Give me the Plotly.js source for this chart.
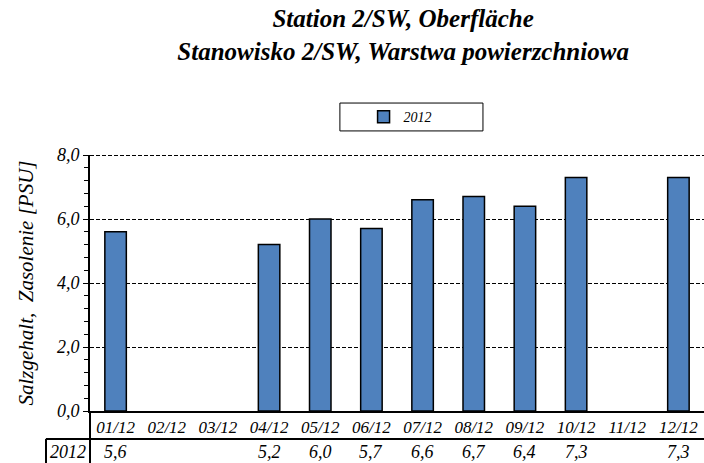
<!DOCTYPE html>
<html>
<head>
<meta charset="utf-8">
<script src="https://cdn.plot.ly/plotly-3.0.1.min.js"></script>
<style>html,body{margin:0;padding:0;background:#fff;}#chart{width:704px;height:463px;}</style>
</head>
<body>
<div id="chart"></div>
<script>
const categories = ["01/12","02/12","03/12","04/12","05/12","06/12","07/12","08/12","09/12","10/12","11/12","12/12"];
const values2012 = [5.6, null, null, 5.2, 6.0, 5.7, 6.6, 6.7, 6.4, 7.3, null, 7.3];
const seriesName = "2012";
const yTicks = [0, 2, 4, 6, 8];

const serif = "Liberation Serif";
const fmt = v => v.toFixed(1).replace('.', ',');
const it = s => '<i>' + s + '</i>';

const trace = {
  type: 'bar',
  x: categories,
  y: values2012,
  name: it(seriesName),
  width: 0.42,
  marker: {color: '#4F81BD', line: {color: '#000', width: 1.5}},
  showlegend: true
};

const annotations = categories.map((c, i) => values2012[i] == null ? null : ({
  x: c, xref: 'x', y: -0.16, yref: 'paper', yanchor: 'middle',
  text: it(fmt(values2012[i])), showarrow: false,
  font: {family: serif, size: 18, color: '#000'}
})).filter(a => a);
annotations.push({
  x: -0.036, xref: 'paper', y: -0.16, yref: 'paper', yanchor: 'middle', xanchor: 'center',
  text: it(seriesName), showarrow: false,
  font: {family: serif, size: 18, color: '#000'}
});

const shapes = [
  {type: 'rect', xref: 'paper', yref: 'paper', x0: 0.407, x1: 0.640, y0: 1.094, y1: 1.203, line: {color: '#000', width: 1}, fillcolor: 'rgba(0,0,0,0)'},
  {type: 'line', xref: 'paper', yref: 'y', x0: 0, x1: 1, y0: yTicks[yTicks.length-1], y1: yTicks[yTicks.length-1], line: {color: '#000', width: 2, dash: '4px,2px'}},
  {type: 'line', xref: 'paper', yref: 'paper', x0: -0.0717, x1: 1, y0: -0.109, y1: -0.109, line: {color: '#000', width: 2}},
  {type: 'line', xref: 'paper', yref: 'paper', x0: -0.0717, x1: -0.0717, y0: -0.109, y1: -0.21, line: {color: '#000', width: 2}},
  {type: 'line', xref: 'paper', yref: 'paper', x0: 0, x1: 0, y0: 0, y1: -0.21, line: {color: '#000', width: 2}}
];

const layout = {
  width: 704, height: 463,
  margin: {l: 90, r: 0, t: 155, b: 52},
  paper_bgcolor: '#fff', plot_bgcolor: '#fff',
  separators: ', ',
  title: {
    text: '<b><i>Station 2/SW, Oberfläche<br>Stanowisko 2/SW, Warstwa powierzchniowa</i></b>',
    font: {family: serif, size: 25, color: '#000'},
    x: 0.51, xanchor: 'center', xref: 'paper',
    y: 0.941, yanchor: 'top', yref: 'container'
  },
  showlegend: true,
  legend: {
    x: 0.505, xanchor: 'center', xref: 'paper',
    y: 1.148, yanchor: 'middle', yref: 'paper',
    bgcolor: 'rgba(0,0,0,0)', borderwidth: 0,
    font: {family: serif, size: 14, color: '#000'},
    itemwidth: 30
  },
  xaxis: {
    type: 'category',
    tickvals: categories,
    ticktext: categories.map(it),
    showline: true, linecolor: '#000', linewidth: 2,
    ticks: '', showgrid: false,
    tickfont: {family: serif, size: 17, color: '#000'},
    fixedrange: true
  },
  yaxis: {
    range: [0, 8],
    tickvals: yTicks,
    ticktext: yTicks.map(v => it(fmt(v))),
    showline: true, linecolor: '#000', linewidth: 2,
    ticks: 'outside', ticklen: 5, tickcolor: '#000', tickwidth: 1,
    showgrid: true, gridcolor: '#000', griddash: '4px,2px', gridwidth: 1,
    zeroline: false,
    minor: {dtick: 0.4, tick0: 0, ticks: 'outside', ticklen: 4, tickcolor: '#000', showgrid: false},
    tickfont: {family: serif, size: 18, color: '#000'},
    title: {text: it('Salzgehalt,  Zasolenie [PSU]'), font: {family: serif, size: 21, color: '#000'}, standoff: 18},
    fixedrange: true
  },
  annotations: annotations,
  shapes: shapes
};

Plotly.newPlot('chart', [trace], layout, {displayModeBar: false, staticPlot: true});
</script>
</body>
</html>
